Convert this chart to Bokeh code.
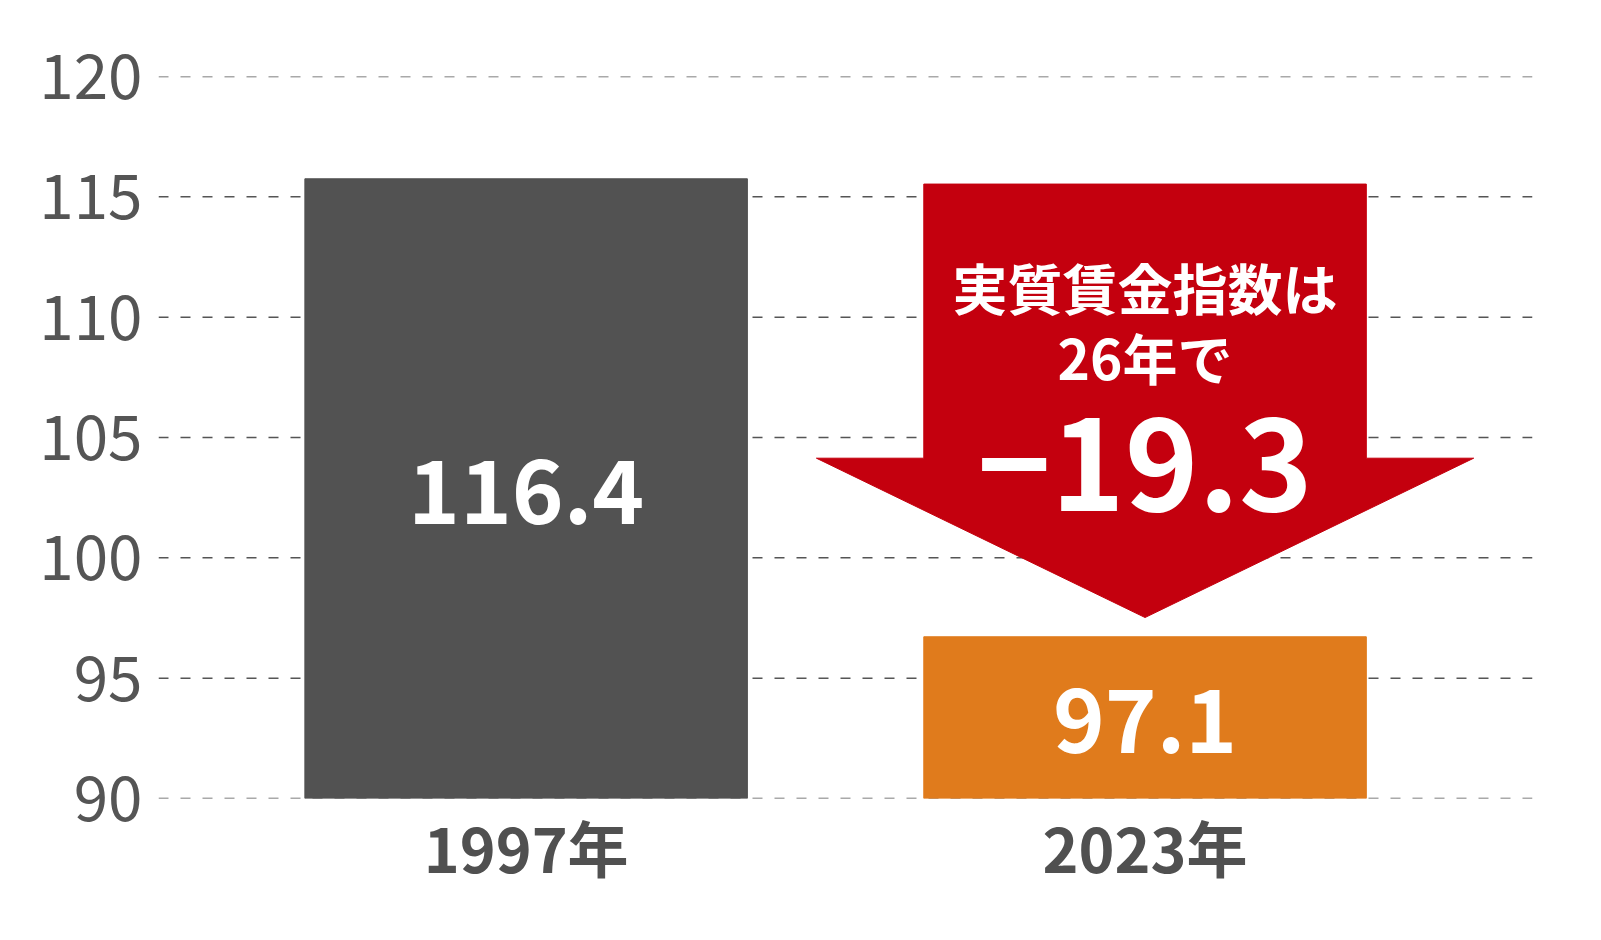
from bokeh.plotting import figure
from bokeh.models import Range1d, FixedTicker, ColumnDataSource, Span
from bokeh.core.properties import value
from bokeh.embed import file_html
from bokeh.resources import INLINE

# ---- data ----
categories = ["1997年", "2023年"]
index_values = [116.4, 97.1]          # printed real wage index values
bar_tops = [115.75, 96.72]            # bar heights as drawn in the reference
value_labels = ["116.4", "97.1"]
change_label = "−19.3"
note_lines = ["実質賃金指数は", "26年で"]
y_ticks = [90, 95, 100, 105, 110, 115, 120]
bar_colors = ["#525252", "#E07B1C"]

FONT = "Noto Sans CJK JP"
RED = "#C4000E"
BASE = 90

xs = list(range(len(categories)))
bar_w = 0.715

p = figure(width=1585, height=924, output_backend="svg", toolbar_location=None,
           x_range=Range1d(-0.594, 1.626), y_range=Range1d(BASE, 120),
           frame_width=1374, frame_height=722,
           min_border_left=158, min_border_right=53, min_border_top=76, min_border_bottom=126)
p.outline_line_color = None
p.background_fill_color = "white"
p.border_fill_color = "white"

# dashed horizontal grid lines (spans so that the 90 and 120 lines are drawn too)
p.xgrid.grid_line_color = None
p.ygrid.grid_line_color = None
for t in y_ticks:
    p.add_layout(Span(location=t, dimension="width", line_color="#555555",
                      line_dash="10 12", line_width=1.5, level="underlay"))

# axes
p.yaxis.ticker = FixedTicker(ticks=y_ticks)
p.yaxis.axis_line_color = None
p.yaxis.major_tick_line_color = None
p.yaxis.minor_tick_line_color = None
p.yaxis.major_label_standoff = 10
p.yaxis.major_label_text_font = FONT
p.yaxis.major_label_text_font_size = "62px"
p.yaxis.major_label_text_color = "#555555"

p.xaxis.ticker = FixedTicker(ticks=xs)
p.xaxis.major_label_overrides = {i: c for i, c in zip(xs, categories)}
p.xaxis.axis_line_color = None
p.xaxis.major_tick_line_color = None
p.xaxis.minor_tick_line_color = None
p.xaxis.major_label_standoff = -3
p.xaxis.major_label_text_font = FONT
p.xaxis.major_label_text_font_style = "bold"
p.xaxis.major_label_text_font_size = "61px"
p.xaxis.major_label_text_color = "#505050"

# bars
src = ColumnDataSource(dict(x=xs, top=bar_tops, color=bar_colors, label=value_labels,
                            mid=[(t + BASE) / 2 - 0.12 for t in bar_tops]))
p.vbar(x="x", top="top", bottom=BASE, width=bar_w, color="color", source=src)
p.text(x="x", y="mid", text="label", source=src, text_color="white",
       text_font=value(FONT), text_font_style="bold", text_font_size="88px",
       text_align="center", text_baseline="middle")

# down arrow over the 2023 bar
cx = xs[1]
half = bar_w / 2
wing = 0.531
arrow_top = bar_tops[0] - 0.22
tip = bar_tops[1] + 0.8
wing_y = tip + 6.62
p.patch(x=[cx - half, cx + half, cx + half, cx + wing, cx, cx - wing, cx - half],
        y=[arrow_top, arrow_top, wing_y, wing_y, tip, wing_y, wing_y],
        fill_color=RED, line_color=RED, line_width=1)

p.text(x=[cx, cx], y=[arrow_top - 4.22, arrow_top - 7.15], text=note_lines,
       text_color="white", text_font=value(FONT), text_font_style="bold",
       text_font_size="55px", text_align="center", text_baseline="middle")
p.text(x=[cx], y=[arrow_top - 11.66], text=[change_label],
       text_color="white", text_font=value(FONT), text_font_style="bold",
       text_font_size="125px", text_align="center", text_baseline="middle")

open("out.html", "w").write(file_html(p, INLINE))
